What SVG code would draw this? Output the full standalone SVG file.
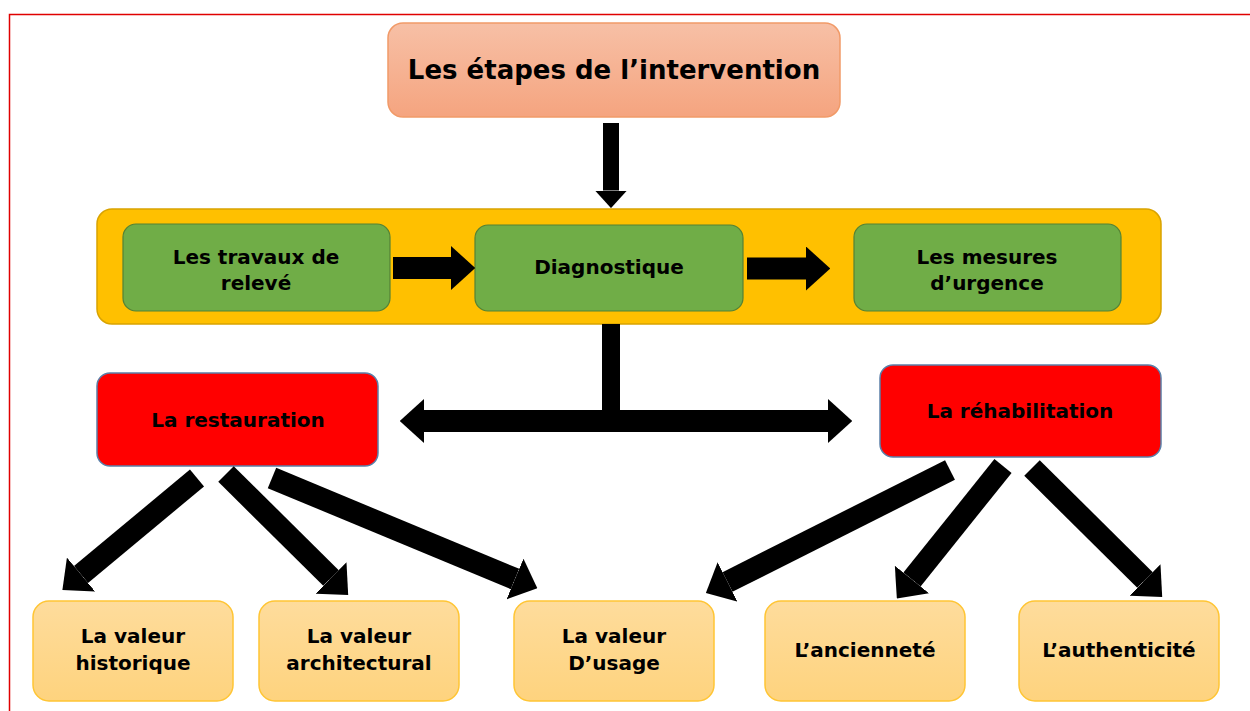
<svg xmlns="http://www.w3.org/2000/svg" width="1250" height="711" viewBox="0 0 1250 711">
<defs>
<linearGradient id="gTop" x1="0" y1="0" x2="0" y2="1"><stop offset="0" stop-color="#f7c0a6"/><stop offset="1" stop-color="#f5a47f"/></linearGradient>
<linearGradient id="gLeaf" x1="0" y1="0" x2="0" y2="1"><stop offset="0" stop-color="#fedc9c"/><stop offset="1" stop-color="#fed37e"/></linearGradient>
<marker id="ah" viewBox="0 0 11 20" refX="0" refY="10" markerWidth="1.1" markerHeight="2" orient="auto-start-reverse" markerUnits="strokeWidth"><path d="M0,0 L11,10 L0,20 Z" fill="#000"/></marker>
<style>
text{font-family:"DejaVu Sans",Verdana,sans-serif;font-weight:bold;font-size:20px;fill:#000;text-anchor:middle}
.top{fill:url(#gTop);stroke:#f19a68;stroke-width:1.5}
.band{fill:#ffc000;stroke:#d9a300;stroke-width:1.5}
.green{fill:#70ad47;stroke:#548235;stroke-width:1.2}
.red{fill:#ff0000;stroke:#5b7fa8;stroke-width:1.5}
.leaf{fill:url(#gLeaf);stroke:#ffc534;stroke-width:1.5}
.c{stroke:#000;fill:none;marker-end:url(#ah)}
</style>
</defs>
<rect width="1250" height="711" fill="#fff"/>
<path d="M9.5,711 V14.5 H1250" fill="none" stroke="#e00000" stroke-width="1.5"/>

<g id="n-etapes"><rect class="top" x="388" y="23" width="452" height="94" rx="15"/><text x="614" y="79" style="font-size:26px">Les étapes de l’intervention</text></g>
<g id="n-bande"><rect class="band" x="97" y="209" width="1064" height="115" rx="15"/></g>
<g id="n-releve"><rect class="green" x="123" y="224" width="267" height="87" rx="13"/><text x="256" y="264">Les travaux de</text><text x="256" y="290">relevé</text></g>
<g id="n-diag"><rect class="green" x="475" y="225" width="268" height="86" rx="13"/><text x="609" y="274">Diagnostique</text></g>
<g id="n-urgence"><rect class="green" x="854" y="224" width="267" height="87" rx="13"/><text x="987" y="264">Les mesures</text><text x="987" y="290">d’urgence</text></g>
<g id="n-restauration"><rect class="red" x="97" y="373" width="281" height="93" rx="13"/><text x="238" y="427">La restauration</text></g>
<g id="n-rehabilitation"><rect class="red" x="880" y="365" width="281" height="92" rx="13"/><text x="1020" y="418">La réhabilitation</text></g>
<g id="n-historique"><rect class="leaf" x="33" y="601" width="200" height="100" rx="16"/><text x="133" y="643">La valeur</text><text x="133" y="670">historique</text></g>
<g id="n-architectural"><rect class="leaf" x="259" y="601" width="200" height="100" rx="16"/><text x="359" y="643">La valeur</text><text x="359" y="670">architectural</text></g>
<g id="n-usage"><rect class="leaf" x="514" y="601" width="200" height="100" rx="16"/><text x="614" y="643">La valeur</text><text x="614" y="670">D’usage</text></g>
<g id="n-anciennete"><rect class="leaf" x="765" y="601" width="200" height="100" rx="16"/><text x="865" y="657">L’ancienneté</text></g>
<g id="n-authenticite"><rect class="leaf" x="1019" y="601" width="200" height="100" rx="16"/><text x="1119" y="657">L’authenticité</text></g>

<g id="connectors">
<line class="c" x1="611" y1="123" x2="611" y2="190.5" stroke-width="16"/>
<line class="c" x1="393" y1="268" x2="451" y2="268" stroke-width="22"/>
<line class="c" x1="747" y1="268.5" x2="806" y2="268.5" stroke-width="22"/>
<line x1="611" y1="324" x2="611" y2="422" stroke="#000" stroke-width="18"/>
<line class="c" x1="424" y1="421" x2="828" y2="421" stroke-width="22" style="marker-start:url(#ah)"/>
<line class="c" x1="197" y1="478" x2="81" y2="574.5" stroke-width="22"/>
<line class="c" x1="226" y1="474" x2="331" y2="578" stroke-width="22"/>
<line class="c" x1="272" y1="478" x2="515" y2="579" stroke-width="22"/>
<line class="c" x1="950" y1="470" x2="727.5" y2="582" stroke-width="22"/>
<line class="c" x1="1003" y1="466" x2="912" y2="579.5" stroke-width="22"/>
<line class="c" x1="1032" y1="468" x2="1145" y2="580" stroke-width="22"/>
</g>
</svg>
